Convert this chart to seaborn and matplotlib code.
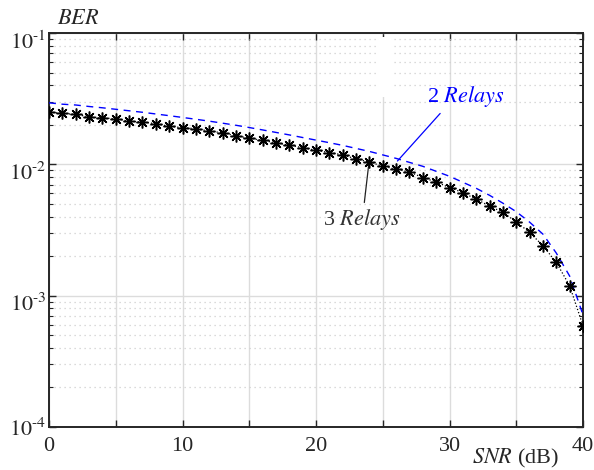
import numpy as np
import pandas as pd
import matplotlib
matplotlib.use('Agg')
import matplotlib.pyplot as plt
import matplotlib.transforms as mtransforms
import seaborn as sns
from matplotlib.patches import Rectangle
from matplotlib.ticker import LogLocator, NullFormatter

# values
snr = list(range(0, 41))
ber_3relays = [0.0250, 0.0244, 0.0240, 0.0230, 0.0226, 0.0222, 0.0213, 0.0210,
               0.0204, 0.0195, 0.0190, 0.0187, 0.0179, 0.0174, 0.0165, 0.0158,
               0.0152, 0.0146, 0.0140, 0.0134, 0.0128, 0.0123, 0.0118, 0.0110,
               0.0104, 0.0097, 0.00917, 0.00875, 0.00793, 0.00734, 0.00665,
               0.00610, 0.00542, 0.00482, 0.00430, 0.00365, 0.00303, 0.00240,
               0.00179, 0.00119, 0.00059]
ber_2relays = [0.02940, 0.02870, 0.02830, 0.02757, 0.02695, 0.02625, 0.02557,
               0.02491, 0.02418, 0.02347, 0.02275, 0.02204, 0.02132, 0.02058,
               0.01984, 0.01906, 0.01828, 0.01750, 0.01675, 0.01600, 0.01529,
               0.01461, 0.01394, 0.01322, 0.01254, 0.01180, 0.01110, 0.01035,
               0.00966, 0.00885, 0.00811, 0.00730, 0.00657, 0.00581, 0.00506,
               0.00436, 0.00363, 0.00294, 0.00211, 0.00141, 0.000714]
xticks = [0, 5, 10, 15, 20, 25, 30, 35, 40]
xtick_labels = ['0', '', '10', '', '20', '', '30', '', '40']
yticks = [1e-4, 1e-3, 1e-2, 1e-1]
ytick_labels = [r'$10^{\text{-}4}$', r'$10^{\text{-}3}$',
                r'$10^{\text{-}2}$', r'$10^{\text{-}1}$']

df = pd.DataFrame({'snr': snr, 'r3': ber_3relays, 'r2': ber_2relays})

sns.set_theme(style='white')
plt.rcParams['font.family'] = ['Liberation Serif', 'DejaVu Serif']
plt.rcParams['mathtext.fontset'] = 'stix'

fig = plt.figure(figsize=(5.94, 4.70), dpi=100)
ax = fig.add_axes([49/594, 1 - 427/470, (583 - 49)/594, (427 - 33)/470])

sns.lineplot(data=df, x='snr', y='r2', color='blue', linestyle=(0, (5, 4)),
             linewidth=1.0, ax=ax, zorder=3)
sns.lineplot(data=df, x='snr', y='r3', color='black', linestyle=':',
             linewidth=0.9, marker=(8, 2, 0), markersize=8.5,
             markeredgewidth=1.1, markeredgecolor='black', ax=ax, zorder=4)

ax.set_yscale('log')
ax.set_xlim(0, 40)
ax.set_ylim(1e-4, 1e-1)
ax.set_xticks(xticks)
ax.set_xticklabels(xtick_labels)
ax.set_yticks(yticks)
ax.set_yticklabels(ytick_labels)
ax.yaxis.set_minor_locator(LogLocator(base=10, subs=np.arange(2, 10)))
ax.yaxis.set_minor_formatter(NullFormatter())
ax.set_xlabel('')
ax.set_ylabel('')

ax.grid(which='major', axis='both', color='#dcdcdc', linestyle='-', linewidth=1.0)
ax.grid(which='minor', axis='y', color='#cfcfcf', linestyle=(0, (1, 3)),
        linewidth=0.9)
ax.tick_params(which='both', direction='in', top=True, right=True,
               left=True, bottom=True, colors='#262626', labelsize=16)
ax.tick_params(which='major', length=5, width=1.0)
ax.tick_params(which='minor', length=3, width=0.8)
ax.tick_params(axis='x', pad=7)
ax.tick_params(axis='y', pad=2)
for s in ax.spines.values():
    s.set_color('#262626')
    s.set_linewidth(1.4)

# MATLAB-like placement: base of the power sits below the tick
shift = mtransforms.ScaledTranslation(0, -0.07, fig.dpi_scale_trans)
for lab in ax.get_yticklabels()[1:]:
    lab.set_transform(lab.get_transform() + shift)

# patch of grid hidden behind an empty box in the original
ax.add_patch(Rectangle((24.5, 0.0328), 1.2, 0.0932 - 0.0328,
                       facecolor='white', edgecolor='none', zorder=1))

# annotations
ax.text(31.2, 0.0328, r'2 $\mathit{Relays}$', color='blue', fontsize=16,
        ha='center', va='center')
ax.plot([29.3, 26.1], [0.0244, 0.0106], color='blue', lw=0.9)
ax.text(23.45, 0.00382, r'3 $\mathit{Relays}$', color='#333333', fontsize=16,
        ha='center', va='center')
ax.plot([23.97, 23.62], [0.0104, 0.00512], color='#222222', lw=0.9)

fig.text(57/594, 1 - 20/470, r'$\mathit{BER}$', fontsize=16, color='#262626',
         ha='left', va='center')
fig.text(515/594, 1 - 458/470, r'$\mathit{SNR}$ (dB)', fontsize=16,
         color='#262626', ha='center', va='center')

fig.savefig('out.png', dpi=100)
